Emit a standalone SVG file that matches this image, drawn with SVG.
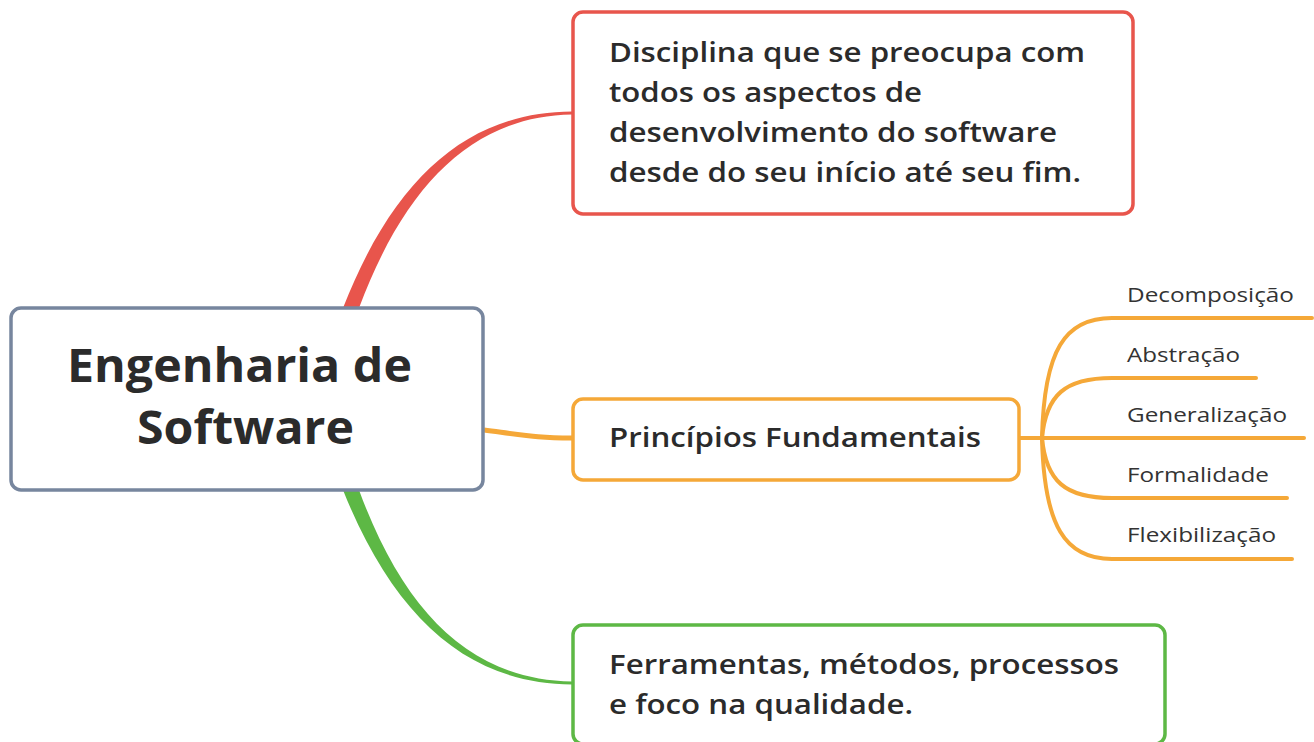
<svg xmlns="http://www.w3.org/2000/svg" width="1314" height="742" viewBox="0 0 1314 742">
<style>
text{font-family:"Open Sans","Noto Sans","Liberation Sans",sans-serif;fill:#2b2b2b}
.main{font-size:46px;font-weight:700}
.t1{font-size:26.5px;font-weight:600}
.sub{font-size:20.5px;font-weight:400;fill:#333}
.box{fill:#fff;stroke-width:3.5}
.ol{fill:none;stroke:#F5A838;stroke-width:4;stroke-linecap:round}
</style>
<rect width="1314" height="742" fill="#fff"/>
<g id="connectors">
<path d="M343,308 C395,175 470,112 572,111.5 L572,114.5 C473,116 405,185 359,308 Z" fill="#E8554C"/>
<path d="M343,490 C395,620 470,684 572,684.5 L572,681.5 C473,680 405,615 359,490 Z" fill="#5DB845"/>
<path d="M484,430 C530,436 540,438 572,438" fill="none" stroke="#F5A838" stroke-width="5"/>
<path d="M1020,438 L1042,438" class="ol"/>
<path d="M1042,438 C1044,350 1065,318 1112,318 L1312,318" class="ol"/>
<path d="M1042,438 C1046,395 1065,378 1112,378 L1256,378" class="ol"/>
<path d="M1042,438 L1304,438" class="ol"/>
<path d="M1042,438 C1046,481 1065,498 1112,498 L1287,498" class="ol"/>
<path d="M1042,438 C1044,526 1065,559 1112,559 L1292,559" class="ol"/>
</g>
<g id="central">
<rect class="box" x="11" y="308" width="472" height="182" rx="10" stroke="#77869E"/>
<text class="main" x="67" y="382" textLength="345" lengthAdjust="spacingAndGlyphs">Engenharia de</text>
<text class="main" x="137" y="444" textLength="217" lengthAdjust="spacingAndGlyphs">Software</text>
</g>
<g id="disciplina">
<rect class="box" x="573" y="12" width="560" height="202" rx="10" stroke="#E8554C"/>
<text class="t1" x="609" y="62" textLength="476" lengthAdjust="spacingAndGlyphs">Disciplina que se preocupa com</text>
<text class="t1" x="609" y="102" textLength="313" lengthAdjust="spacingAndGlyphs">todos os aspectos de</text>
<text class="t1" x="609" y="142" textLength="448" lengthAdjust="spacingAndGlyphs">desenvolvimento do software</text>
<text class="t1" x="609" y="182" textLength="472" lengthAdjust="spacingAndGlyphs">desde do seu início até seu fim.</text>
</g>
<g id="principios">
<rect class="box" x="573" y="399" width="446" height="81" rx="10" stroke="#F5A838"/>
<text class="t1" x="609" y="447" textLength="372" lengthAdjust="spacingAndGlyphs">Princípios Fundamentais</text>
</g>
<g id="ferramentas">
<rect class="box" x="573" y="625" width="592" height="119" rx="10" stroke="#5DB845"/>
<text class="t1" x="609" y="674" textLength="510" lengthAdjust="spacingAndGlyphs">Ferramentas, métodos, processos</text>
<text class="t1" x="609" y="714" textLength="304" lengthAdjust="spacingAndGlyphs">e foco na qualidade.</text>
</g>
<g id="decomposicao"><text class="sub" x="1127" y="302" textLength="167" lengthAdjust="spacingAndGlyphs">Decomposição</text></g>
<g id="abstracao"><text class="sub" x="1127" y="362" textLength="113" lengthAdjust="spacingAndGlyphs">Abstração</text></g>
<g id="generalizacao"><text class="sub" x="1127" y="422" textLength="160" lengthAdjust="spacingAndGlyphs">Generalização</text></g>
<g id="formalidade"><text class="sub" x="1127" y="482" textLength="142" lengthAdjust="spacingAndGlyphs">Formalidade</text></g>
<g id="flexibilizacao"><text class="sub" x="1127" y="542" textLength="149" lengthAdjust="spacingAndGlyphs">Flexibilização</text></g>
</svg>
